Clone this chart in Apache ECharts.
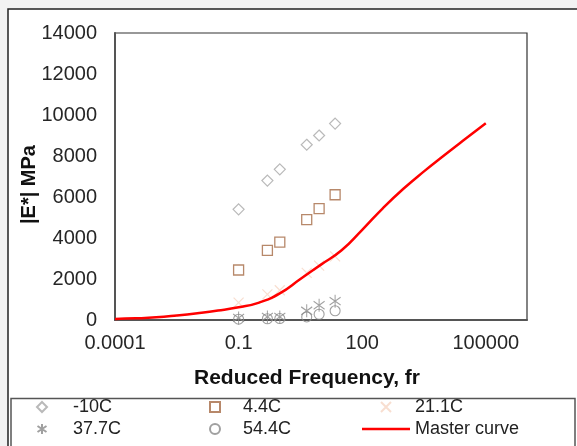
<!DOCTYPE html>
<html>
<head>
<meta charset="utf-8">
<script src="https://cdn.jsdelivr.net/npm/echarts@6/dist/echarts.min.js"></script>
<style>
html,body{margin:0;padding:0;background:#f2f2f2;}
#main{width:577px;height:446px;}
</style>
</head>
<body>
<div id="main"></div>
<script>
// test frequencies (Hz) shared by the measured temperatures
var testFreq = [0.1, 0.5, 1, 4.5, 9, 22];
var e10C  = [5400, 6800, 7350, 8550, 9000, 9580];
var e44C  = [2440, 3400, 3800, 4900, 5430, 6110];
var e211C = [850, 1250, 1450, 2300, 2650, 3100];
var e377C = [100, 150, 150, 450, 720, 920];
var e544C = [40, 60, 70, 150, 280, 450];

// master curve
var masterFreq = [0.0001, 0.000316, 0.001, 0.00316, 0.01, 0.0316, 0.1, 0.316, 1, 3.16, 10, 31.6, 100, 316, 1000, 3160, 10000, 31600, 100000];
var masterE    = [50, 80, 130, 220, 330, 460, 620, 850, 1300, 2000, 2700, 3400, 4400, 5450, 6400, 7250, 8050, 8830, 9600];

var xTickLabels = ['0.0001', '0.1', '100', '100000'];
var yTicks = [0, 2000, 4000, 6000, 8000, 10000, 12000, 14000];

function pairs(xs, ys){
	var out = [];
	for(var i = 0;i<xs.length;i++){
		out.push([xs[i], ys[i]]);
	}
	return out;
}

/*marker shapes as paths so the legend keeps their aspect*/
var diamond  = 'path://M0,-10L10,0L0,10L-10,0Z';
var square   = 'path://M-10,-10L10,-10L10,10L-10,10Z';
var circle   = 'path://M-10,0A10,10,0,1,0,10,0A10,10,0,1,0,-10,0Z';
var cross    = 'path://M-10,-10L10,10M-10,10L10,-10';
var asterisk = 'path://M0,-10L0,10M-9,-6L9,6M-9,6L9,-6';
var lineIcon = 'path://M0,0L48,0L48,2.5L0,2.5Z';
var font = 'Arial, "Liberation Sans", sans-serif';

var dom = document.getElementById("main");
var myChart = echarts.init(dom);
var option = {
	animation:false,
	backgroundColor:'#f2f2f2',
	textStyle:{fontFamily:font},
	graphic:[
		{type:'rect', shape:{x:8, y:9, width:600, height:460}, style:{fill:'#ffffff', stroke:'#222', lineWidth:1.5}, z:-10},
		{type:'rect', shape:{x:11, y:398.5, width:564, height:60}, style:{fill:'#ffffff', stroke:'#555', lineWidth:1.5}, z:-9}
	],
	grid:{
		left:115, right:50, top:33, bottom:126,
		show:true, borderColor:'#333', borderWidth:1.2, backgroundColor:'#fff'
	},
	xAxis:{
		type:'log',
		logBase:10,
		min:0.0001,
		max:1000000,
		name:'Reduced Frequency, fr',
		nameLocation:'middle',
		nameGap:48,
		nameMoveOverlap:false,
		nameTextStyle:{fontSize:21, fontWeight:'bold', color:'#111', fontFamily:font, padding:[0,28,0,0]},
		axisLine:{lineStyle:{color:'#555', width:2}},
		axisTick:{show:false},
		splitLine:{show:false},
		minorTick:{show:false},
		axisLabel:{
			fontSize:20, color:'#262626', margin:13, fontFamily:font,
			showMaxLabel:false,
			formatter:function(v){
				var e = Math.round(Math.log(v)/Math.LN10);
				var idx = (e+4)/3;
				if(idx === Math.round(idx) && idx>=0 && idx<xTickLabels.length){
					return xTickLabels[idx];
				}
				return '';
			}
		}
	},
	yAxis:{
		type:'value',
		min:yTicks[0],
		max:yTicks[yTicks.length-1],
		interval:2000,
		name:'|E*| MPa',
		nameLocation:'middle',
		nameGap:76,
		nameMoveOverlap:false,
		nameRotate:90,
		nameTextStyle:{fontSize:20, fontWeight:'bold', color:'#111', fontFamily:font, padding:[0,16,0,0]},
		axisLine:{show:true, lineStyle:{color:'#555', width:2}},
		axisTick:{show:false},
		splitLine:{show:false},
		axisLabel:{fontSize:20, color:'#262626', margin:18, fontFamily:font,
			formatter:function(v){ return String(v); }}
	},
	legend:[
		{
			orient:'vertical', left:31, top:393, itemWidth:52, itemHeight:10, itemGap:4,
			textStyle:{fontSize:18, color:'#222', fontFamily:font},
			data:[{name:'-10C', icon:diamond},{name:'37.7C', icon:asterisk}]
		},
		{
			orient:'vertical', left:204, top:393, itemWidth:46, itemHeight:10, itemGap:4,
			textStyle:{fontSize:18, color:'#222', fontFamily:font},
			data:[{name:'4.4C', icon:square},{name:'54.4C', icon:circle}]
		},
		{
			orient:'vertical', left:357, top:393, itemWidth:48, itemHeight:10, itemGap:4,
			textStyle:{fontSize:18, color:'#222', fontFamily:font},
			data:[{name:'21.1C', icon:cross},{name:'Master curve', icon:lineIcon}]
		}
	],
	series:[
		{
			name:'-10C', type:'scatter', symbol:diamond, symbolSize:11,
			itemStyle:{color:'transparent', borderColor:'#a8a8a8', borderWidth:1.2},
			data:pairs(testFreq, e10C)
		},
		{
			name:'4.4C', type:'scatter', symbol:square, symbolSize:10,
			itemStyle:{color:'transparent', borderColor:'#a56a45', borderWidth:1.3},
			data:pairs(testFreq, e44C)
		},
		{
			name:'21.1C', type:'scatter', symbol:cross, symbolSize:10,
			itemStyle:{color:'transparent', borderColor:'#f6d6c4', borderWidth:1.2},
			data:pairs(testFreq, e211C)
		},
		{
			name:'54.4C', type:'scatter', symbol:circle, symbolSize:10,
			itemStyle:{color:'transparent', borderColor:'#888', borderWidth:1.1},
			data:pairs(testFreq, e544C)
		},
		{
			name:'37.7C', type:'scatter', symbol:asterisk, symbolSize:[11,13],
			itemStyle:{color:'transparent', borderColor:'#888', borderWidth:1.1},
			data:pairs(testFreq, e377C)
		},
		{
			name:'Master curve', type:'line', smooth:true, showSymbol:false, symbol:'none',
			lineStyle:{color:'#ff0000', width:2.5},
			itemStyle:{color:'#ff0000'},
			z:3,
			data:pairs(masterFreq, masterE)
		}
	]
};
myChart.setOption(option, true);
</script>
</body>
</html>
